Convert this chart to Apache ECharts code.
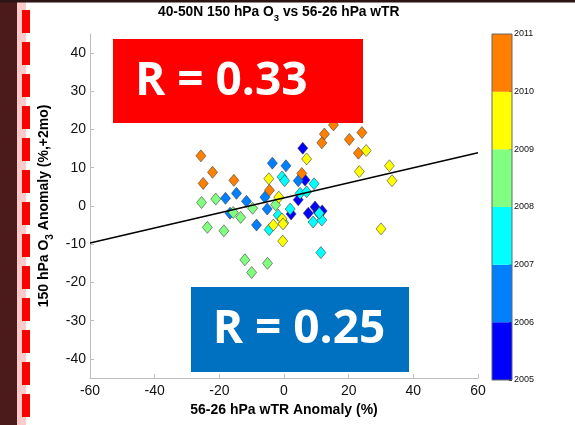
<!DOCTYPE html>
<html>
<head>
<meta charset="utf-8">
<script src="https://cdn.jsdelivr.net/npm/echarts@6/dist/echarts.min.js"></script>
<style>
  html, body { margin: 0; padding: 0; background: #ffffff; }
  #chart { width: 575px; height: 425px; }
</style>
</head>
<body>
<div id="chart"></div>
<script>
// Colour-bar years and the band colours (one band per year)
const years = [2005, 2006, 2007, 2008, 2009, 2010, 2011];
const bandColors = ['#0000ff', '#0080ff', '#00ffff', '#80ff80', '#ffff00', '#ff8000'];

// Monthly anomalies [wTR anomaly %, O3 anomaly %], grouped by year band
const pts2005 = [[5.8, 15.1], [6.5, 6.8], [4.4, 1.6], [7.5, -1.9], [9.6, -0.3], [10.5, -1.6],
                 [11.8, -1.3], [2.2, -2.1]];
const pts2006 = [[-3.6, 11.2], [0.6, 10.5], [-14.7, 3.3], [-18.1, 2.0], [-5.9, 2.3], [-11.6, 1.2],
                 [-5.2, -0.8], [-8.5, -5.0], [-16.7, -1.9], [4.4, 6.6]];
const pts2007 = [[-0.6, 7.6], [0.2, 6.6], [5.0, 3.3], [7.0, 3.7], [9.3, 5.8], [1.9, -0.8],
                 [-1.8, -2.4], [-4.6, -6.2], [9.0, -4.2], [11.7, -3.7], [10.9, -1.9], [11.4, -12.2]];
const pts2008 = [[-25.5, 0.9], [-21.1, 1.8], [-15.7, -1.7], [-13.4, -3.0], [-9.7, -0.6], [-23.7, -5.6],
                 [-18.6, -6.5], [-12.1, -14.1], [-5.1, -15.0], [-10.0, -17.4], [-2.6, 0.3], [-0.1, -4.4]];
const pts2009 = [[-4.7, 7.1], [-1.6, 2.3], [7.0, 12.3], [25.4, 14.5], [23.3, 9.0], [32.6, 10.5],
                 [33.4, 6.6], [-3.3, -5.0], [-0.6, -3.4], [-0.3, -4.7], [-0.4, -9.2], [30.0, -6.0]];
const pts2010 = [[-25.7, 13.1], [-22.1, 8.8], [-25.0, 5.9], [-15.5, 6.7], [-4.5, 4.1], [5.5, 8.5],
                 [15.3, 21.2], [12.5, 18.8], [11.7, 16.5], [20.2, 17.4], [24.1, 19.2], [23.0, 13.8]];
const yearGroups = [pts2005, pts2006, pts2007, pts2008, pts2009, pts2010];

// Least-squares fit line end points
const fitX = [-60, 60];
const fitY = [-9.7, 13.9];

// Axis ticks
const xTicks = [-60, -40, -20, 0, 20, 40, 60];
const yTicks = [-40, -30, -20, -10, 0, 10, 20, 30, 40];

// Correlation coefficients shown in the call-out boxes
const rValues = ['0.33', '0.25'];

const FONT = '"Liberation Sans", Arial, sans-serif';
const axisGray = '#bdbdbd';

// Rich-text styles: normal run plus a lowered, smaller subscript run
function subRich(size, subSize) {
  return {
    m: { fontFamily: FONT, fontSize: size, fontWeight: 'bold', color: '#000', lineHeight: 16 },
    s: { fontFamily: FONT, fontSize: subSize, fontWeight: 'bold', color: '#000', lineHeight: 10,
         padding: [12, 0, 0, 0] }
  };
}

const chart = echarts.init(document.getElementById('chart'), null, { renderer: 'canvas' });

const scatterSeries = yearGroups.map((pts, i) => ({
  type: 'scatter',
  xAxisIndex: 0, yAxisIndex: 0,
  symbol: 'diamond',
  symbolSize: [10, 12],
  itemStyle: { color: bandColors[i], borderColor: 'rgba(60,60,60,0.75)', borderWidth: 0.8, opacity: 1 },
  emphasis: { disabled: true },
  data: pts,
  z: 2
}));

const fitSeries = {
  type: 'line',
  xAxisIndex: 0, yAxisIndex: 0,
  data: fitX.map((x, i) => [x, fitY[i]]),
  showSymbol: false,
  lineStyle: { color: '#000', width: 1.5 },
  z: 3
};

// Colour bar: six stacked unit bars on their own axis
const colorbarSeries = bandColors.map((c) => ({
  type: 'bar',
  xAxisIndex: 1, yAxisIndex: 1,
  stack: 'cbar',
  barWidth: '100%',
  data: [1],
  itemStyle: { color: c },
  emphasis: { disabled: true },
  silent: true
}));

// Slide border decorations on the left and top
const deco = [
  { type: 'rect', shape: { x: 0, y: 0, width: 17, height: 425 }, style: { fill: '#4b1b1b' }, z: 100 },
  { type: 'rect', shape: { x: 17, y: 0, width: 9, height: 425 }, style: { fill: '#ffcaca' }, z: 100 },
  { type: 'rect', shape: { x: 0, y: 0, width: 575, height: 2.5 }, style: { fill: '#2a1414' }, z: 102 }
];
for (let s = -22; s < 425; s += 32) {
  deco.push({ type: 'rect', shape: { x: 22, y: s, width: 8, height: 23 }, style: { fill: '#ff0000' }, z: 101 });
}

chart.setOption({
  animation: false,
  backgroundColor: '#ffffff',
  title: {
    text: '{m|40-50N 150 hPa O}{s|3}{m| vs 56-26 hPa wTR}',
    left: 158,
    top: 0,
    padding: [4, 0, 0, 0],
    textStyle: { fontFamily: FONT, rich: subRich(13.8, 9.5) }
  },
  grid: [
    { left: 90, right: 97, top: 33.9, bottom: 47, containLabel: false },
    { left: 492, width: 20, top: 34, height: 346, containLabel: false }
  ],
  xAxis: [
    {
      type: 'value', gridIndex: 0,
      min: -60, max: 60, interval: 20,
      name: '56-26 hPa wTR Anomaly (%)',
      nameLocation: 'middle',
      nameGap: 22,
      nameTextStyle: { fontFamily: FONT, fontSize: 14, fontWeight: 'bold', color: '#000' },
      axisLine: { show: true, onZero: false, lineStyle: { color: axisGray, width: 1 } },
      axisTick: { show: true, inside: true, length: 4, lineStyle: { color: axisGray } },
      axisLabel: { fontFamily: FONT, fontSize: 14, color: '#111', margin: 6,
                   customValues: xTicks },
      splitLine: { show: false }
    },
    {
      type: 'category', gridIndex: 1, data: ['bar'],
      show: false
    }
  ],
  yAxis: [
    {
      type: 'value', gridIndex: 0,
      min: -45, max: 45,
      name: '{m|150 hPa O}{s|3}{m| Anomaly (%,+2mo)}',
      nameLocation: 'middle',
      nameGap: 23,
      nameTextStyle: { fontFamily: FONT, rich: subRich(14, 10) },
      axisLine: { show: true, onZero: false, lineStyle: { color: axisGray, width: 1 } },
      axisTick: { show: true, inside: true, length: 4, lineStyle: { color: axisGray }, customValues: yTicks },
      axisLabel: { fontFamily: FONT, fontSize: 14, color: '#111', margin: 4, customValues: yTicks },
      splitLine: { show: false }
    },
    {
      type: 'value', gridIndex: 1,
      position: 'right',
      min: 0, max: 6, interval: 1,
      axisLine: { show: false },
      axisTick: { show: true, inside: true, length: 3, lineStyle: { color: '#222' } },
      axisLabel: { fontFamily: FONT, fontSize: 9, color: '#111', margin: 2,
                   formatter: (v) => String(years[v]) },
      splitLine: { show: false }
    }
  ],
  series: [...scatterSeries, fitSeries, ...colorbarSeries],
  graphic: [
    ...deco,
    { type: 'rect', shape: { x: 492, y: 34, width: 20, height: 346 },
      style: { fill: null, stroke: '#666', lineWidth: 1 }, z: 50 },
    { type: 'rect', shape: { x: 113, y: 39, width: 250, height: 84 }, style: { fill: '#ff0000' }, z: 60 },
    { type: 'text', x: 135, y: 82, z: 61,
      style: { text: 'R = ' + rValues[0], fill: '#ffffff', font: 'bold 46px "Open Sans", sans-serif',
               textAlign: 'left', textVerticalAlign: 'middle' } },
    { type: 'rect', shape: { x: 191, y: 287, width: 218, height: 85 }, style: { fill: '#0070c0' }, z: 60 },
    { type: 'text', x: 299, y: 330, z: 61,
      style: { text: 'R = ' + rValues[1], fill: '#ffffff', font: 'bold 46px "Open Sans", sans-serif',
               textAlign: 'center', textVerticalAlign: 'middle' } }
  ]
});
</script>
</body>
</html>
